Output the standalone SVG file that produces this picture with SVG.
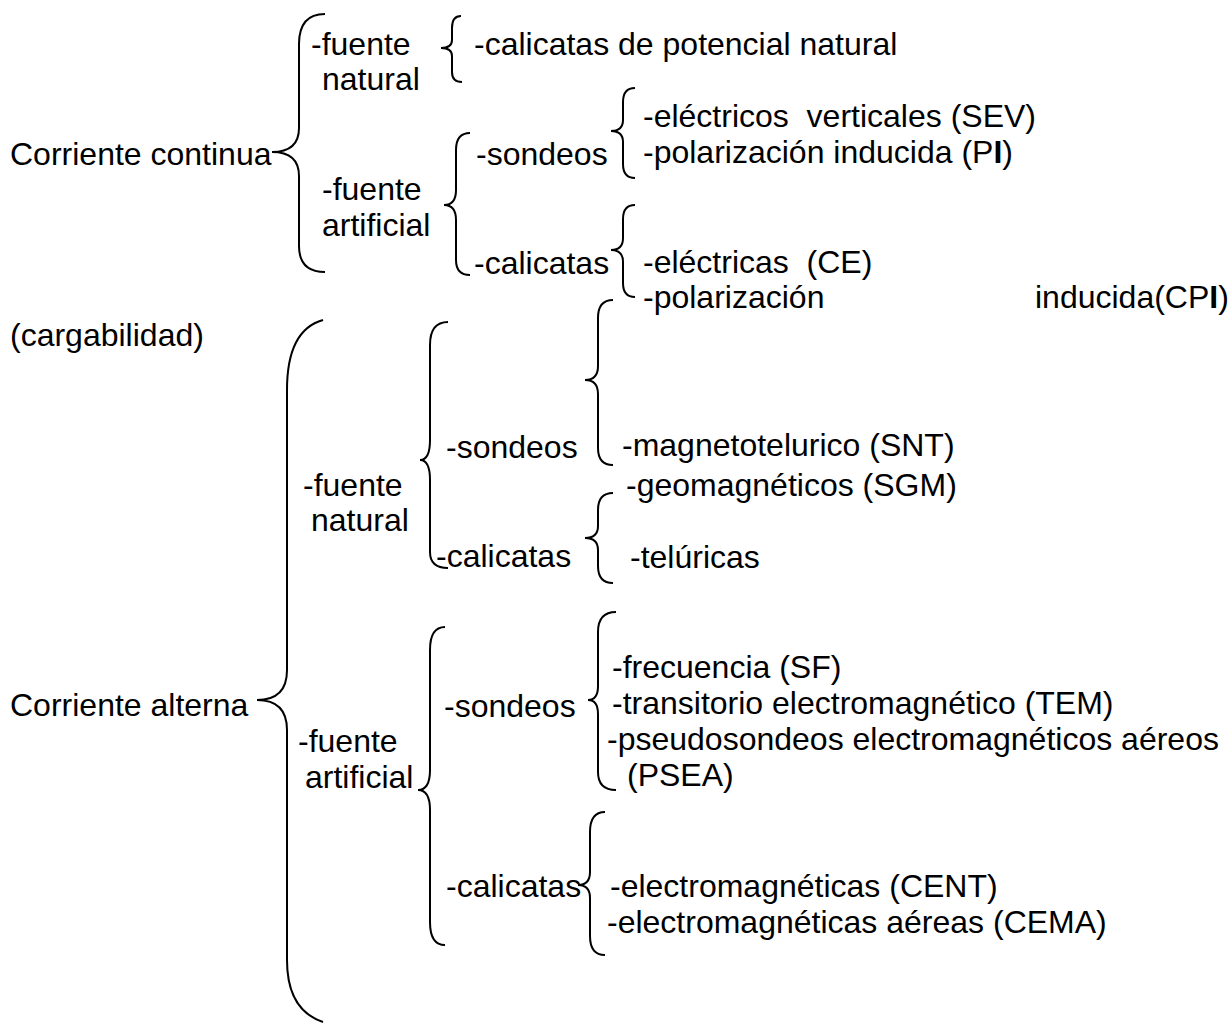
<svg xmlns="http://www.w3.org/2000/svg" width="1232" height="1025" viewBox="0 0 1232 1025">
<style>
text{font-family:"Liberation Sans",Arial,sans-serif;font-size:32px;fill:#000}
.b{fill:none;stroke:#000;stroke-width:2}
</style>
<rect width="1232" height="1025" fill="#fff"/>
<g id="connectors">
<path id="bA" class="b" d="M325,14 Q299,14 299,44 L299,128 Q299,152 272,152 Q299,152 299,176 L299,246 Q299,272 325,272"/>
<path id="bB" class="b" d="M461,16 Q452,16 452,28 L452,40 Q452,48 441,48 Q452,48 452,56 L452,72 Q452,82 462,82"/>
<path id="bC" class="b" d="M470,133 Q456,133 456,150 L456,190 Q456,205 444,205 Q456,205 456,220 L456,260 Q456,275 470,275"/>
<path id="bD" class="b" d="M635,88 Q623,88 623,102 L623,120 Q623,131 611,131 Q623,131 623,142 L623,164 Q623,178 635,178"/>
<path id="bE" class="b" d="M635,205 Q623,205 623,219 L623,238 Q623,250 611,250 Q623,250 623,262 L623,283 Q623,297 635,297"/>
<path id="bF" class="b" d="M323,320 Q287,330 287,390 L287,670 Q287,700 257,700 Q287,700 287,730 L287,960 Q287,1010 323,1022"/>
<path id="bG" class="b" d="M448,322 Q430,322 430,345 L430,440 Q430,460 420,460 Q430,460 430,480 L430,552 Q430,568 448,568"/>
<path id="bH" class="b" d="M613,300 Q598,300 598,318 L598,366 Q598,380 585,380 Q598,380 598,394 L598,448 Q598,465 613,465"/>
<path id="bI" class="b" d="M613,493 Q598,493 598,510 L598,526 Q598,538 585,538 Q598,538 598,550 L598,566 Q598,583 613,583"/>
<path id="bJ" class="b" d="M445,627 Q430,627 430,650 L430,770 Q430,790 418,790 Q430,790 430,810 L430,922 Q430,945 445,945"/>
<path id="bK" class="b" d="M616,612 Q598,612 598,632 L598,686 Q598,700 588,700 Q598,700 598,714 L598,772 Q598,790 616,790"/>
<path id="bL" class="b" d="M605,812 Q590,812 590,832 L590,872 Q590,885 578,885 Q590,885 590,898 L590,936 Q590,955 605,955"/>
</g>
<g id="n-cc"><text x="10" y="165">Corriente continua</text></g>
<g id="n-cc-fn"><text x="311" y="55">-fuente</text><text x="322" y="90">natural</text></g>
<g id="n-cc-fn-cal"><text x="474" y="55">-calicatas de potencial natural</text></g>
<g id="n-cc-fa"><text x="322" y="200">-fuente</text><text x="322" y="236">artificial</text></g>
<g id="n-cc-fa-son"><text x="476" y="165">-sondeos</text></g>
<g id="n-cc-fa-cal"><text x="474" y="274">-calicatas</text></g>
<g id="n-sev"><text x="643" y="127" xml:space="preserve">-eléctricos  verticales (SEV)</text></g>
<g id="n-pi"><text x="643" y="163">-polarización inducida (P<tspan font-weight="bold">I</tspan>)</text></g>
<g id="n-ce"><text x="643" y="273" xml:space="preserve">-eléctricas  (CE)</text></g>
<g id="n-cpi"><text x="643" y="308">-polarización</text><text x="1035" y="308">inducida(CP<tspan font-weight="bold">I</tspan>)</text></g>
<g id="n-carg"><text x="10" y="346">(cargabilidad)</text></g>
<g id="n-ca"><text x="10" y="716">Corriente alterna</text></g>
<g id="n-ca-fn"><text x="303" y="496">-fuente</text><text x="311" y="531">natural</text></g>
<g id="n-ca-fn-son"><text x="446" y="458">-sondeos</text></g>
<g id="n-ca-fn-cal"><text x="436" y="567">-calicatas</text></g>
<g id="n-snt"><text x="622" y="456">-magnetotelurico (SNT)</text></g>
<g id="n-sgm"><text x="626" y="496">-geomagnéticos (SGM)</text></g>
<g id="n-tel"><text x="630" y="568">-telúricas</text></g>
<g id="n-ca-fa"><text x="298" y="752">-fuente</text><text x="305" y="788">artificial</text></g>
<g id="n-ca-fa-son"><text x="444" y="717">-sondeos</text></g>
<g id="n-ca-fa-cal"><text x="446" y="897">-calicatas</text></g>
<g id="n-sf"><text x="612" y="678">-frecuencia (SF)</text></g>
<g id="n-tem"><text x="612" y="714">-transitorio electromagnético (TEM)</text></g>
<g id="n-psea"><text x="607" y="750">-pseudosondeos electromagnéticos aéreos</text><text x="627" y="786">(PSEA)</text></g>
<g id="n-cent"><text x="610" y="897">-electromagnéticas (CENT)</text></g>
<g id="n-cema"><text x="607" y="933">-electromagnéticas aéreas (CEMA)</text></g>
</svg>
